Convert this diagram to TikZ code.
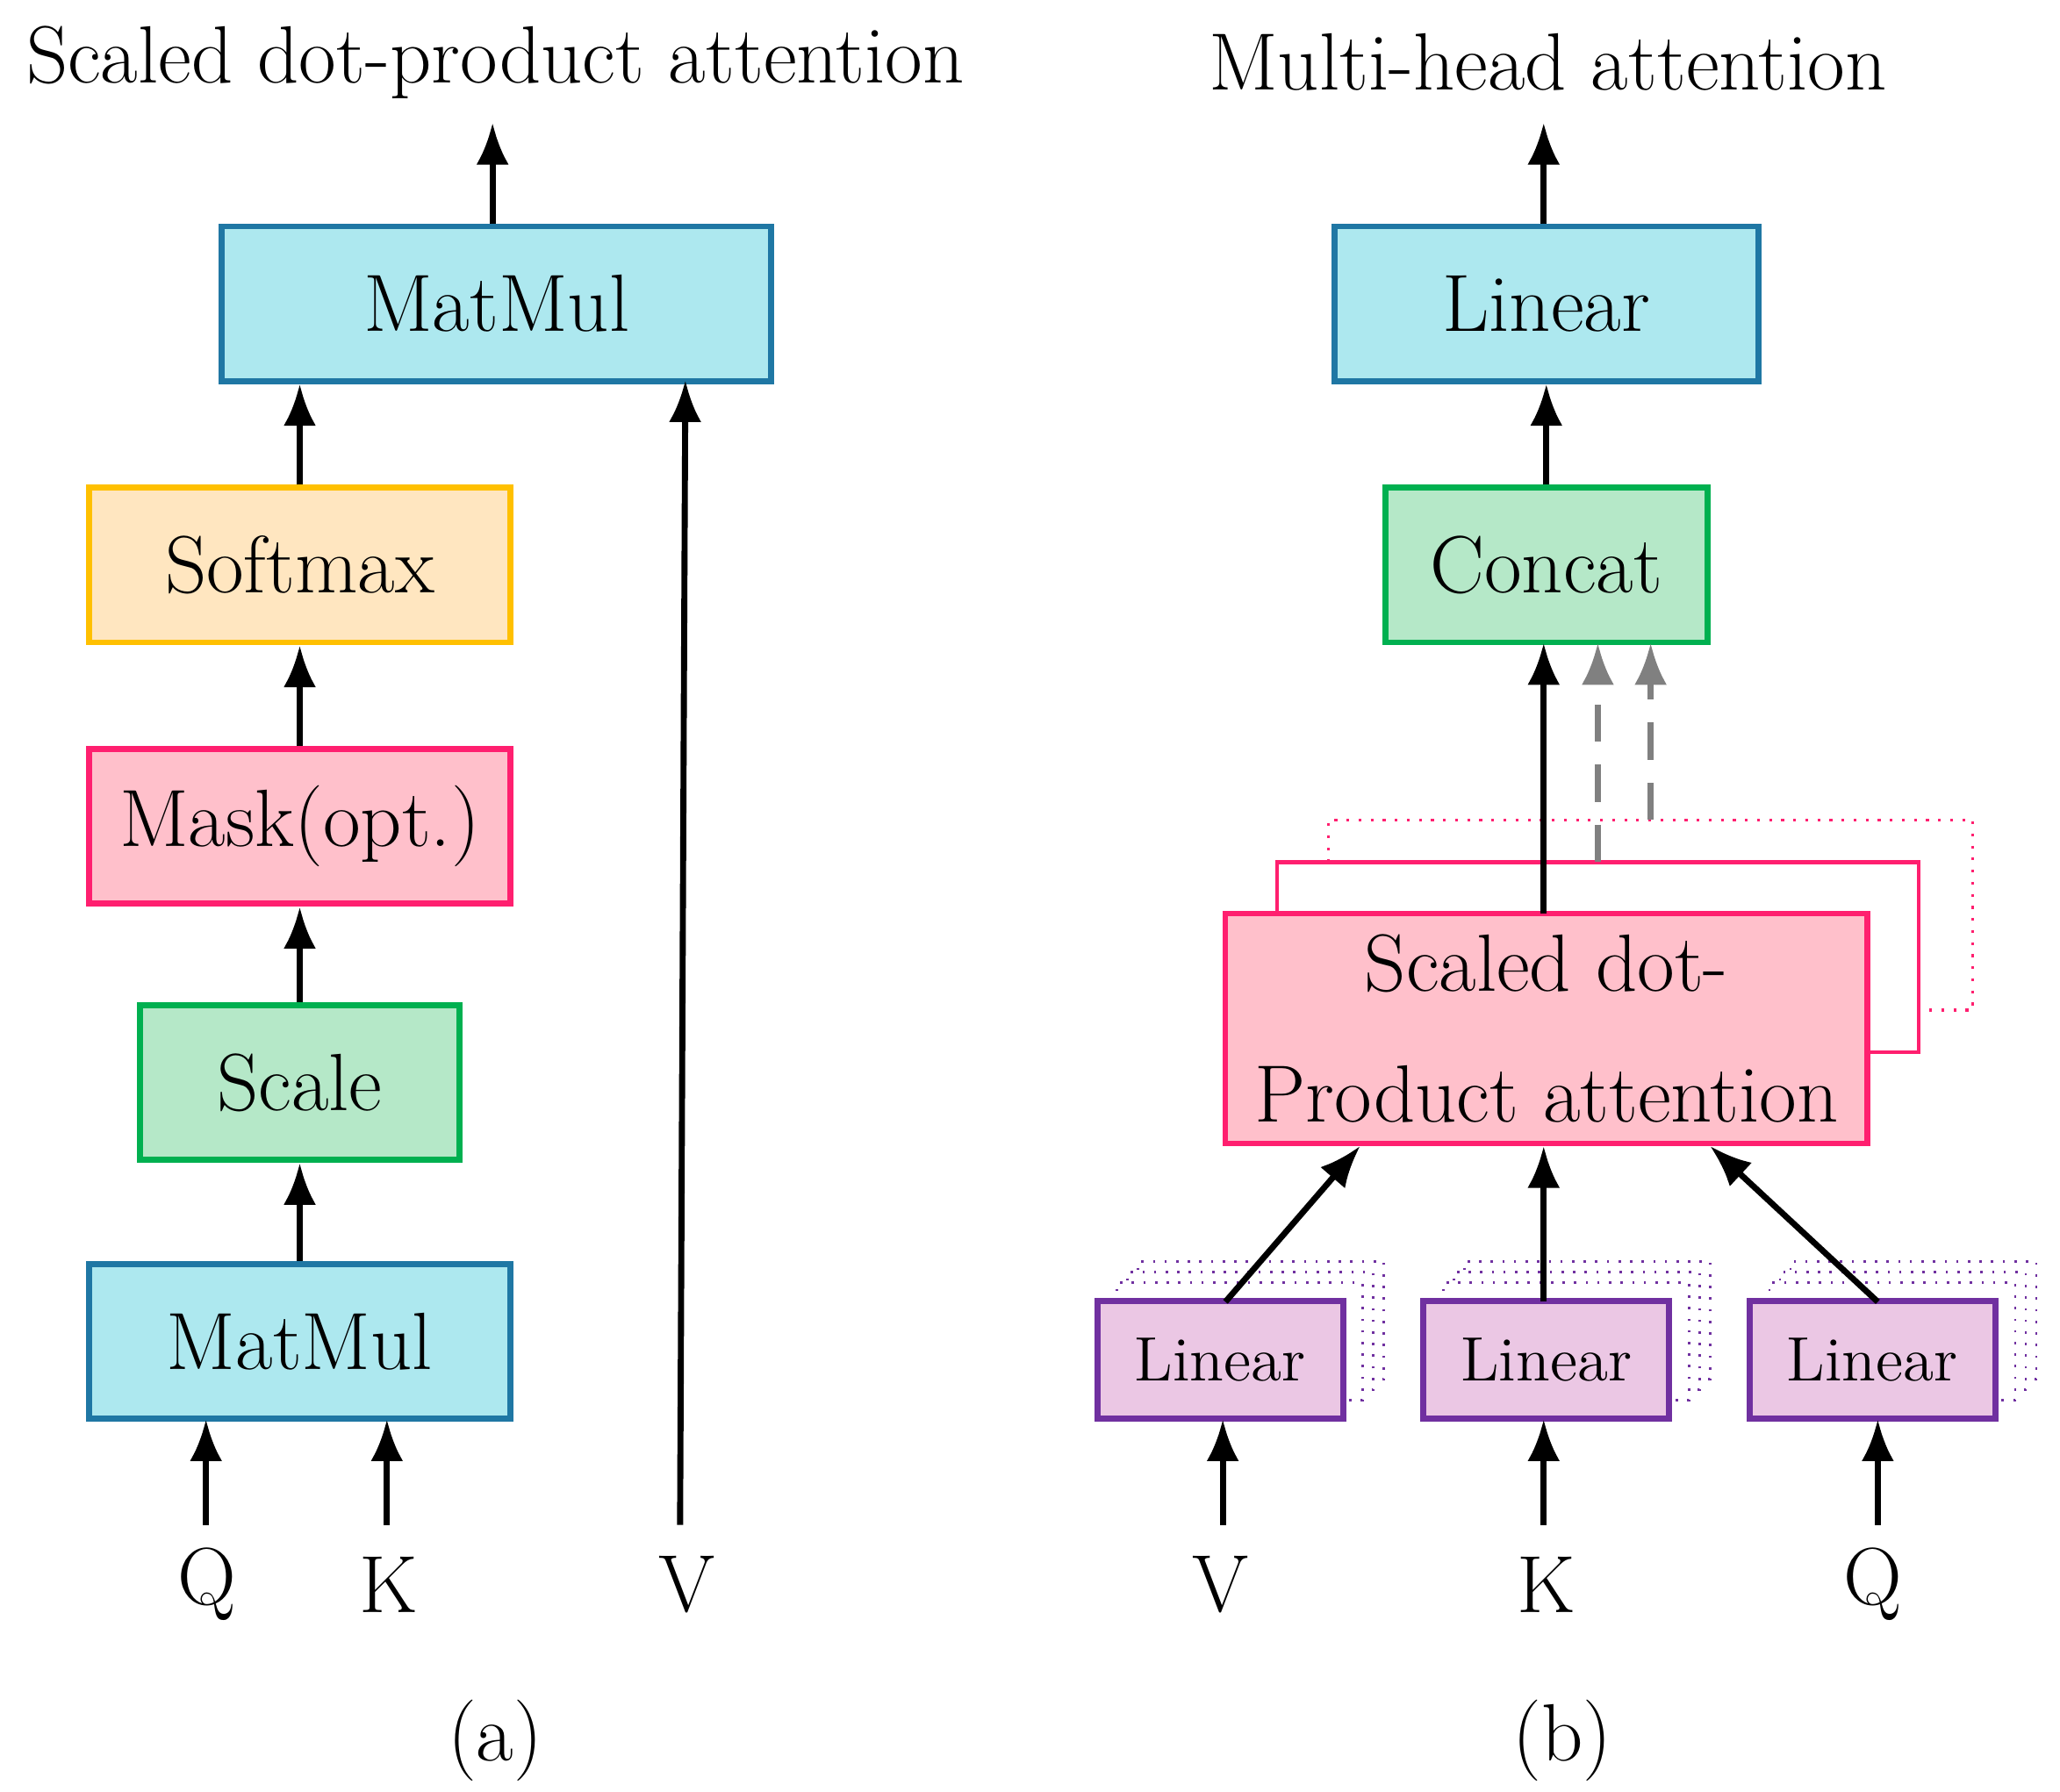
\documentclass[tikz,border=0pt]{standalone}
\usepackage{mathpazo}
\usetikzlibrary{arrows.meta}
\definecolor{cyanfill}{HTML}{ADE8EF}
\definecolor{cyanline}{HTML}{1F77A4}
\definecolor{orfill}{HTML}{FFE6C0}
\definecolor{orline}{HTML}{FFC000}
\definecolor{pkfill}{HTML}{FFC0CB}
\definecolor{pkline}{HTML}{FF1F6F}
\definecolor{grfill}{HTML}{B5E8C8}
\definecolor{grline}{HTML}{00B050}
\definecolor{vifill}{HTML}{EBC7E4}
\definecolor{viline}{HTML}{7030A0}
\tikzset{
  box/.style={draw, line width=1.3pt, minimum height=1.17cm, inner sep=0pt,
    font=\fontsize{17.5}{21}\selectfont},
  lin/.style={draw=viline, fill=vifill, line width=1.3pt, minimum width=1.86cm,
    minimum height=0.89cm, inner sep=0pt, font=\fontsize{13.5}{16}\selectfont},
  ghost/.style={draw=viline, line width=0.5pt, dotted, minimum width=1.86cm,
    minimum height=0.89cm},
  arr/.style={-{Latex[length=9pt,width=7pt]}, line width=1.3pt},
  lbl/.style={font=\fontsize{17.5}{21}\selectfont}
}
\begin{document}
\begin{tikzpicture}[x=0.01cm, y=-0.01cm]
\useasboundingbox (0,0) rectangle (1560,1357);
% (a) scaled dot-product attention
\node[lbl] (ta) at (375,47) {Scaled dot-product attention};
\node[box, fill=cyanfill, draw=cyanline, minimum width=4.16cm] (mm2) at (376,230) {MatMul};
\node[box, fill=orfill, draw=orline, minimum width=3.19cm] (sm) at (227,428) {Softmax};
\node[box, fill=pkfill, draw=pkline, minimum width=3.19cm] (mask) at (227,626) {Mask(opt.)};
\node[box, fill=grfill, draw=grline, minimum width=2.42cm] (sc) at (227,820) {Scale};
\node[box, fill=cyanfill, draw=cyanline, minimum width=3.19cm] (mm1) at (227,1016) {MatMul};
\node[lbl, font=\fontsize{17.5}{21}\selectfont\itshape] (qa) at (157,1200) {Q};
\node[lbl, font=\fontsize{17.5}{21}\selectfont\itshape] (ka) at (294,1200) {K};
\node[lbl, font=\fontsize{17.5}{21}\selectfont\itshape] (va) at (520,1200) {V};
\coordinate (oa) at (373,93);
\draw[arr] (156,1155) -- (156,1075);
\draw[arr] (293,1155) -- (293,1075);
\draw[arr] (515,1155) -- (519,288);
\draw[arr] (mm1) -- (sc);
\draw[arr] (sc) -- (mask);
\draw[arr] (mask) -- (sm);
\draw[arr] (sm.north) -- (sm.north |- mm2.south);
\draw[arr] (mm2.north -| oa) -- (oa);
\node[lbl] at (375,1318) {(\textbf{a})};
% (b) multi-head attention
\node[lbl] (tb) at (1172,47) {Multi-head attention};
\node[box, fill=cyanfill, draw=cyanline, minimum width=3.21cm] (lo) at (1171,230) {Linear};
\node[box, fill=grfill, draw=grline, minimum width=2.44cm] (cc) at (1171,428) {Concat};
\draw[pkline, line width=0.6pt, dotted] (1006,653) |- (1494,621) |- (1453,765);
\draw[pkline, line width=0.8pt] (967,692) |- (1453,653) |- (1414,797);
\node[box, fill=pkfill, draw=pkline, minimum width=4.86cm, minimum height=1.74cm,
  align=center] (sdp) at (1171,779) {Scaled dot-\\[0.25cm]Product attention};
\foreach \n/\x/\t in {lv/924/V, lk/1171/K, lq/1418/Q}{
  \foreach \k in {31,23,15}
    \node[ghost, fill=white] at (\x+\k,1030-\k+1) {};
  \node[lin] (\n) at (\x,1030) {Linear};
  \node[lbl, font=\fontsize{17.5}{21}\selectfont\itshape] (i\n) at (\x,1200) {\t};
}
\draw[arr] (926,1155) -- (926,1075);
\draw[arr] (1169,1155) -- (1169,1075);
\draw[arr] (1422,1155) -- (1422,1075);
\draw[arr] (928,986) -- (1030,868);
\draw[arr] (1169,986) -- (1169,868);
\draw[arr] (1422,986) -- (1295,868);
\draw[arr] (1169,692) -- (1169,487);
\draw[arr, gray, dashed, dash pattern=on 8pt off 5pt] (1210,653) -- (1210,487);
\draw[arr, gray, dashed, dash pattern=on 8pt off 5pt] (1250,621) -- (1250,487);
\coordinate (ob) at (1169,93);
\draw[arr] (lo.north -| ob) -- (ob);
\draw[arr] (lo |- cc.north) -- (lo.south);
\node[lbl] at (1183,1318) {(\textbf{b})};
\end{tikzpicture}
\end{document}
